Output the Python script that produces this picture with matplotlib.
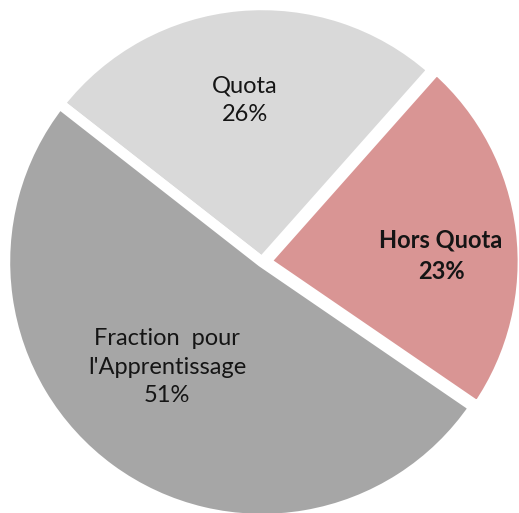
import matplotlib

matplotlib.use("Agg")
import matplotlib.pyplot as plt
import numpy as np

# Data
categories = ["Quota", "Hors Quota", "Fraction  pour\nl'Apprentissage"]
shares = [26, 23, 51]
colors = ["#D9D9D9", "#D99594", "#A6A6A6"]
bold = [False, True, False]

# label placement (polar: radius, angle in degrees) relative to pie centre
label_r = [0.634, 0.697, 0.551]
label_ang = [96, 2, -132]

W, H = 519, 513
SCALE = 257.0  # pixels per unit radius
CX, CY = 262, 262  # pie centre in pixels (from top-left)

fig = plt.figure(figsize=(W / 100, H / 100), dpi=100, facecolor="white")
ax = fig.add_axes([0, 0, 1, 1])

wedges, _ = ax.pie(
    shares,
    colors=colors,
    startangle=142,
    counterclock=False,
    explode=[0, 0.015, 0],
    radius=1.0,
    wedgeprops=dict(edgecolor="white", linewidth=7.5, joinstyle="miter"),
)

for cat, val, b, r, a in zip(categories, shares, bold, label_r, label_ang):
    x = r * np.cos(np.radians(a))
    y = r * np.sin(np.radians(a))
    ax.text(
        x,
        y,
        f"{cat}\n{val}%",
        ha="center",
        va="center",
        fontsize=17,
        family="Lato",
        fontweight="bold" if b else "normal",
        color="#151515",
        linespacing=1.45,
    )

ax.set_xlim(-CX / SCALE, (W - CX) / SCALE)
ax.set_ylim(-(H - CY) / SCALE, CY / SCALE)
ax.set_aspect("equal")
ax.axis("off")

fig.savefig("out.png", dpi=100, facecolor="white")
plt.close(fig)
